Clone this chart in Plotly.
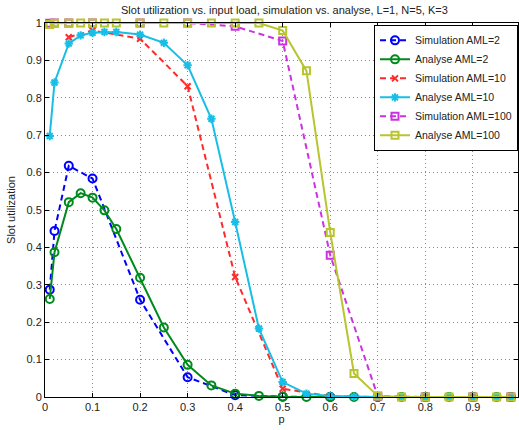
import plotly.graph_objects as go

# ---- data ----
x_analyse = [0.01, 0.02, 0.05, 0.075, 0.1, 0.125, 0.15, 0.2, 0.25, 0.3, 0.35, 0.4,
             0.45, 0.5, 0.55, 0.6, 0.65, 0.7, 0.75, 0.8, 0.85, 0.9, 0.95, 0.98]
x_sim = [0.01, 0.02, 0.05, 0.1, 0.2, 0.3, 0.4, 0.5, 0.6, 0.7, 0.8, 0.9, 0.98]
x_sim10 = [0.05, 0.1, 0.2, 0.3, 0.4, 0.5, 0.6, 0.7, 0.8, 0.9, 0.98]

sim_aml2 = [0.287, 0.444, 0.618, 0.584, 0.260, 0.053, 0.005, 0.001, 0.0, 0.0, 0.0, 0.0, 0.0]
ana_aml2 = [0.262, 0.387, 0.521, 0.545, 0.533, 0.499, 0.449, 0.319, 0.186, 0.086, 0.031, 0.009,
            0.003, 0.001, 0.0, 0.0, 0.0, 0.0, 0.0, 0.0, 0.0, 0.0, 0.0, 0.0]
sim_aml10 = [0.962, 0.980, 0.958, 0.831, 0.321, 0.022, 0.002, 0.0, 0.0, 0.0, 0.0]
ana_aml10 = [0.698, 0.841, 0.945, 0.967, 0.974, 0.976, 0.976, 0.969, 0.947, 0.887, 0.744, 0.468,
             0.183, 0.040, 0.009, 0.003, 0.001, 0.0, 0.0, 0.0, 0.0, 0.0, 0.0, 0.0]
sim_aml100 = [0.999, 1.0, 1.0, 1.0, 1.0, 1.0, 0.991, 0.952, 0.379, 0.002, 0.0, 0.0, 0.0]
ana_aml100 = [0.996, 0.999, 1.0, 1.0, 1.0, 1.0, 1.0, 1.0, 1.0, 1.0, 1.0, 1.0,
              1.0, 0.980, 0.872, 0.440, 0.063, 0.003, 0.0, 0.0, 0.0, 0.0, 0.0, 0.0]

x_ticks = [0, 0.1, 0.2, 0.3, 0.4, 0.5, 0.6, 0.7, 0.8, 0.9]
x_tick_labels = ["0", "0.1", "0.2", "0.3", "0.4", "0.5", "0.6", "0.7", "0.8", "0.9"]
y_ticks = [0, 0.1, 0.2, 0.3, 0.4, 0.5, 0.6, 0.7, 0.8, 0.9, 1.0]
y_tick_labels = ["0", "0.1", "0.2", "0.3", "0.4", "0.5", "0.6", "0.7", "0.8", "0.9", "1"]

FONT = "Liberation Sans, Arial, Helvetica, sans-serif"

series = [
    ("Simulation AML=2", x_sim, sim_aml2, "#0000FF", "6px,4px", "circle-open", 8),
    ("Analyse AML=2", x_analyse, ana_aml2, "#008A1E", "solid", "circle-open", 8),
    ("Simulation AML=10", x_sim10, sim_aml10, "#FF2A2A", "6px,4px", "x-thin-open", 6),
    ("Analyse AML=10", x_analyse, ana_aml10, "#18BEE6", "solid", "asterisk-open", 7),
    ("Simulation AML=100", x_sim, sim_aml100, "#CC33E0", "6px,4px", "square-open", 7),
    ("Analyse AML=100", x_analyse, ana_aml100, "#B8C430", "solid", "square-open", 7),
]

fig = go.Figure()
for name, xs, ys, color, dash, sym, size in series:
    fig.add_trace(go.Scatter(
        x=xs, y=ys, name=name, mode="lines+markers",
        line=dict(color=color, width=2, dash=dash),
        marker=dict(symbol=sym, size=size, color=color, line=dict(color=color, width=2)),
        cliponaxis=False,
    ))

axis_common = dict(
    showline=True, linecolor="black", linewidth=1, mirror="ticks",
    ticks="inside", ticklen=4, tickcolor="black", tickwidth=1,
    showgrid=True, gridcolor="#8a8a8a", gridwidth=1, griddash="1px,3px",
    zeroline=False, tickfont=dict(family=FONT, size=11, color="#222222"),
)

fig.update_layout(
    width=519, height=430,
    margin=dict(l=45, r=1, t=23, b=33),
    paper_bgcolor="white", plot_bgcolor="white",
    font=dict(family=FONT, size=11, color="#222222"),
    title=dict(text="Slot utilization vs. input load, simulation vs. analyse, L=1, N=5, K=3",
               x=0.548, xanchor="center", y=0.985, yanchor="top",
               font=dict(family=FONT, size=11, color="#222222")),
    xaxis=dict(range=[0, 0.995], tickvals=x_ticks, ticktext=x_tick_labels,
               title=dict(text="p", font=dict(family=FONT, size=11), standoff=2),
               **axis_common),
    yaxis=dict(range=[0, 1], tickvals=y_ticks, ticktext=y_tick_labels,
               title=dict(text="Slot utilization", font=dict(family=FONT, size=11), standoff=8),
               **axis_common),
    legend=dict(x=1, xanchor="right", y=0.995, yanchor="top",
                bgcolor="white", bordercolor="black", borderwidth=1,
                font=dict(family=FONT, size=10.5, color="#222222"),
                itemwidth=30, tracegroupgap=0),
    showlegend=True,
)

fig.write_html("out.html",
               config={"displayModeBar": False},
               post_script="document.body.style.margin='0';document.body.style.overflow='hidden';")
